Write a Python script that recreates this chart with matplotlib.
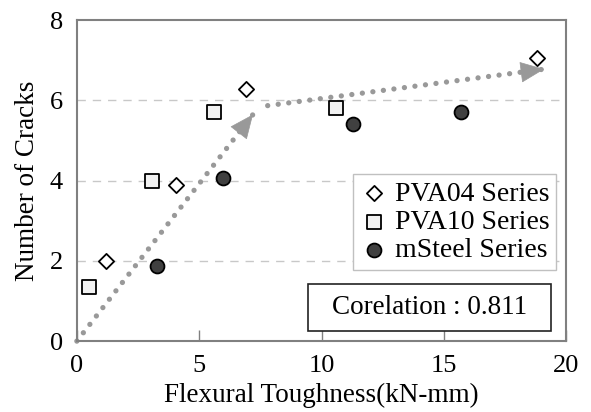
import matplotlib
matplotlib.use("Agg")
import matplotlib.pyplot as plt
from matplotlib.patches import Rectangle

plt.rcParams['font.family'] = ['Liberation Serif', 'DejaVu Serif']

# data
pva04_x = [1.2, 4.05, 6.9, 18.8]
pva04_y = [2.0, 3.9, 6.28, 7.05]
pva10_x = [0.5, 3.08, 5.6, 10.6]
pva10_y = [1.34, 3.99, 5.72, 5.8]
steel_x = [3.26, 5.96, 11.3, 15.7]
steel_y = [1.88, 4.06, 5.4, 5.72]

# trend arrows (start, end)
trend1_x = [0.0, 7.2]
trend1_y = [0.0, 5.65]
trend2_x = [7.8, 19.1]
trend2_y = [5.87, 6.78]

corr_text = "Corelation : 0.811"

fig = plt.figure(figsize=(5.91, 4.12), dpi=100)
ax = fig.add_axes([0.130, 0.172, 0.828, 0.779])

spine_c = '#808080'
arrow_c = '#999999'

for y in [2, 4, 6]:
    ax.axhline(y, color='#c8c8c8', lw=1.0, ls=(0, (6, 5)), zorder=0)

for tx, ty in [(trend1_x, trend1_y), (trend2_x, trend2_y)]:
    ax.plot(tx, ty, color=arrow_c, lw=3.8, ls=(0, (0.01, 2.0)),
            dash_capstyle='round', zorder=1, clip_on=False)
    # arrow head
    dx = tx[1] - tx[0]
    dy = ty[1] - ty[0]
    ax.annotate('', xy=(tx[1], ty[1]),
                xytext=(tx[1] - dx * 0.02, ty[1] - dy * 0.02),
                arrowprops=dict(arrowstyle='-|>,head_length=1.6,head_width=0.7',
                                color=arrow_c, lw=0.5, shrinkA=0, shrinkB=0),
                zorder=1)

ax.scatter(pva04_x, pva04_y, marker='D', s=60, facecolor='white',
           edgecolor='black', linewidth=1.3, zorder=3, label='PVA04 Series')
ax.scatter(pva10_x, pva10_y, marker='s', s=105, facecolor='#f2f2f2',
           edgecolor='black', linewidth=1.3, zorder=3, label='PVA10 Series')
ax.scatter(steel_x, steel_y, marker='o', s=100, facecolor='#404040',
           edgecolor='black', linewidth=1.3, zorder=3, label='mSteel Series')

ax.set_xlim(0, 20)
ax.set_ylim(0, 8)
ax.set_xticks([0, 5, 10, 15, 20])
ax.set_yticks([0, 2, 4, 6, 8])
ax.tick_params(axis='x', direction='in', length=8, color=spine_c, width=1,
               labelsize=19, pad=10)
ax.tick_params(axis='y', length=0, labelsize=19, pad=10)
for s in ax.spines.values():
    s.set_color(spine_c)
    s.set_linewidth(1.5)

ax.set_xlabel('Flexural Toughness(kN-mm)', fontsize=19.5, labelpad=4)
ax.set_ylabel('Number of Cracks', fontsize=19.5, labelpad=7)

leg = ax.legend(loc='upper right', bbox_to_anchor=(0.980, 0.520), fontsize=20,
                frameon=True, fancybox=False, handletextpad=0.25,
                borderpad=0.25, labelspacing=0.1, handlelength=1.0,
                borderaxespad=0, framealpha=1)
leg.get_frame().set_edgecolor('#c0c0c0')
leg.get_frame().set_linewidth(1.0)

# correlation box
ax.add_patch(Rectangle((0.472, 0.031), 0.497, 0.146, transform=ax.transAxes,
                       facecolor='white', edgecolor='#222222', lw=1.2, zorder=4))
ax.text(0.721, 0.104, corr_text, transform=ax.transAxes, fontsize=19.5,
        ha='center', va='center', zorder=5)

fig.savefig('out.png', dpi=100)
